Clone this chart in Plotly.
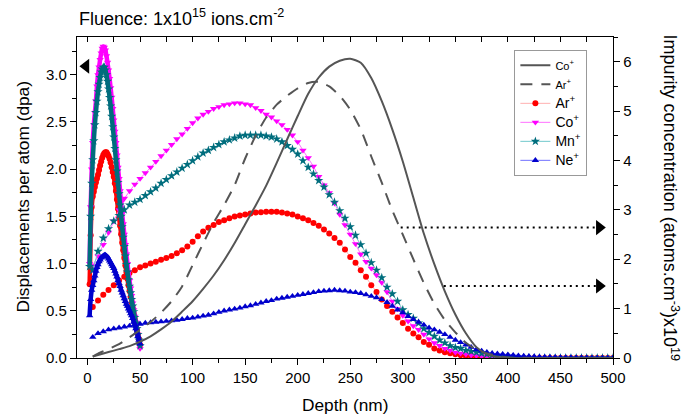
import plotly.graph_objects as go

# ---------------- data ----------------
# broad dpa profiles (every 5 nm)
depth_broad = list(range(5, 505, 5))
dpa_ar = [0.54, 0.61, 0.67, 0.72, 0.77, 0.82, 0.86, 0.90, 0.93, 0.96,
          0.98, 1.00, 1.02, 1.04, 1.06, 1.08, 1.11, 1.14, 1.18, 1.23,
          1.29, 1.34, 1.38, 1.41, 1.44, 1.46, 1.48, 1.50, 1.51, 1.52,
          1.53, 1.54, 1.545, 1.55, 1.55, 1.55, 1.54, 1.53, 1.52, 1.50,
          1.48, 1.46, 1.43, 1.40, 1.36, 1.32, 1.27, 1.22, 1.15, 1.07,
          1.01, 0.93, 0.86, 0.77, 0.70, 0.62, 0.55, 0.49, 0.43, 0.37,
          0.31, 0.26, 0.22, 0.17, 0.14, 0.10, 0.08, 0.06, 0.05, 0.04,
          0.03, 0.02, 0.02, 0.015, 0.01, 0.01, 0.005, 0.005] + [0.0] * 22
dpa_co = [0.98, 1.08, 1.20, 1.33, 1.45, 1.57, 1.69, 1.77, 1.84, 1.90,
          1.96, 2.02, 2.08, 2.14, 2.20, 2.26, 2.32, 2.37, 2.43, 2.49,
          2.54, 2.58, 2.61, 2.64, 2.66, 2.68, 2.69, 2.70, 2.70, 2.69,
          2.68, 2.65, 2.62, 2.58, 2.55, 2.51, 2.47, 2.42, 2.36, 2.29,
          2.20, 2.12, 2.03, 1.92, 1.83, 1.75, 1.64, 1.52, 1.41, 1.31,
          1.21, 1.10, 1.02, 0.95, 0.88, 0.80, 0.70, 0.60, 0.52, 0.45,
          0.39, 0.34, 0.30, 0.25, 0.20, 0.16, 0.13, 0.10, 0.08, 0.06,
          0.05, 0.04, 0.03, 0.025, 0.02, 0.015, 0.01, 0.01, 0.008, 0.005] + [0.0] * 20
dpa_mn = [0.93, 1.13, 1.27, 1.37, 1.45, 1.51, 1.57, 1.62, 1.65, 1.68,
          1.72, 1.76, 1.80, 1.85, 1.89, 1.93, 1.97, 2.01, 2.05, 2.09,
          2.13, 2.17, 2.20, 2.23, 2.26, 2.29, 2.31, 2.33, 2.35, 2.36,
          2.36, 2.36, 2.36, 2.35, 2.34, 2.32, 2.29, 2.25, 2.21, 2.16,
          2.09, 2.02, 1.95, 1.88, 1.81, 1.73, 1.65, 1.56, 1.48, 1.39,
          1.30, 1.20, 1.11, 1.01, 0.93, 0.85, 0.75, 0.68, 0.60, 0.51,
          0.46, 0.42, 0.37, 0.31, 0.27, 0.23, 0.19, 0.16, 0.13, 0.11,
          0.10, 0.08, 0.07, 0.06, 0.05, 0.04, 0.03, 0.025, 0.02, 0.015,
          0.01, 0.005] + [0.0] * 18
dpa_ne = [0.22, 0.26, 0.28, 0.30, 0.31, 0.32, 0.33, 0.34, 0.35, 0.36,
          0.37, 0.375, 0.38, 0.385, 0.39, 0.395, 0.40, 0.41, 0.42, 0.425,
          0.435, 0.445, 0.455, 0.47, 0.485, 0.50, 0.51, 0.52, 0.53, 0.545,
          0.555, 0.57, 0.585, 0.60, 0.61, 0.625, 0.635, 0.645, 0.655, 0.665,
          0.675, 0.685, 0.695, 0.705, 0.71, 0.715, 0.72, 0.715, 0.71, 0.70,
          0.695, 0.685, 0.67, 0.655, 0.64, 0.62, 0.59, 0.55, 0.51, 0.48,
          0.44, 0.41, 0.38, 0.35, 0.32, 0.30, 0.275, 0.25, 0.22, 0.19,
          0.165, 0.14, 0.115, 0.09, 0.075, 0.06, 0.05, 0.045, 0.04, 0.035,
          0.03, 0.025, 0.02, 0.018, 0.015, 0.012, 0.01, 0.01, 0.008, 0.006,
          0.005, 0.004, 0.003, 0.002, 0.002, 0.001, 0.0, 0.0, 0.0, 0.0]

# narrow dpa profiles (every 1 nm, 2-50 nm)
depth_narrow = list(range(2, 51))
nar_ar = [0.78, 1.30, 1.60, 1.71, 1.76, 1.81, 1.86, 1.90, 1.94, 1.99,
          2.04, 2.08, 2.12, 2.15, 2.17, 2.18, 2.18, 2.16, 2.14, 2.11,
          2.07, 2.02, 1.97, 1.92, 1.85, 1.77, 1.68, 1.58, 1.49, 1.40,
          1.31, 1.22, 1.14, 1.06, 0.98, 0.91, 0.84, 0.77, 0.71, 0.65,
          0.59, 0.53, 0.47, 0.41, 0.36, 0.30, 0.25, 0.20, 0.14]
nar_co = [1.00, 1.60, 2.00, 2.28, 2.47, 2.60, 2.72, 2.88, 3.00, 3.08,
          3.16, 3.23, 3.28, 3.30, 3.29, 3.26, 3.20, 3.13, 3.05, 2.96,
          2.86, 2.76, 2.64, 2.52, 2.40, 2.28, 2.15, 2.02, 1.90, 1.77,
          1.65, 1.53, 1.42, 1.31, 1.20, 1.10, 1.00, 0.91, 0.82, 0.74,
          0.66, 0.58, 0.51, 0.44, 0.38, 0.31, 0.25, 0.18, 0.10]
nar_mn = [0.97, 1.50, 1.85, 2.10, 2.30, 2.47, 2.60, 2.72, 2.82, 2.90,
          2.97, 3.03, 3.06, 3.08, 3.08, 3.05, 3.00, 2.93, 2.85, 2.76,
          2.67, 2.56, 2.45, 2.34, 2.22, 2.10, 1.98, 1.86, 1.74, 1.62,
          1.50, 1.39, 1.28, 1.18, 1.08, 0.99, 0.91, 0.83, 0.76, 0.69,
          0.62, 0.55, 0.49, 0.43, 0.37, 0.31, 0.25, 0.19, 0.13]
nar_ne = [0.45, 0.62, 0.72, 0.77, 0.82, 0.87, 0.92, 0.96, 0.99, 1.02,
          1.04, 1.06, 1.07, 1.08, 1.09, 1.09, 1.08, 1.07, 1.05, 1.03,
          1.01, 0.99, 0.97, 0.95, 0.92, 0.89, 0.86, 0.82, 0.79, 0.76,
          0.72, 0.69, 0.66, 0.63, 0.60, 0.57, 0.55, 0.52, 0.50, 0.47,
          0.45, 0.42, 0.38, 0.35, 0.31, 0.27, 0.23, 0.19, 0.15]

# impurity concentration (x1e19 atoms/cm3)
depth_conc = [5, 10] + list(range(20, 410, 10)) + [450, 500]
conc_co = [0.03, 0.06, 0.12, 0.18, 0.24, 0.33, 0.44, 0.58, 0.74, 0.94,
           1.15, 1.40, 1.67, 1.98, 2.33, 2.71, 3.09, 3.49, 3.95, 4.43,
           4.90, 5.35, 5.68, 5.90, 6.02, 6.06, 5.98, 5.67, 5.20, 4.63,
           3.98, 3.25, 2.52, 1.90, 1.35, 0.88, 0.50, 0.22, 0.08, 0.02,
           0.0, 0.0, 0.0]
conc_ar = [0.03, 0.09, 0.18, 0.28, 0.42, 0.57, 0.73, 0.92, 1.15, 1.45,
           1.88, 2.32, 2.74, 3.10, 3.50, 4.04, 4.50, 4.87, 5.13, 5.31,
           5.46, 5.57, 5.59, 5.50, 5.31, 5.03, 4.63, 4.08, 3.55, 2.99,
           2.50, 2.00, 1.52, 1.10, 0.77, 0.52, 0.31, 0.17, 0.09, 0.04,
           0.01, 0.0, 0.0]

# pointer arrows: (start depth, end depth, level)
right_arrows = [(298, 487, 2.64), (339, 487, 1.46)]
left_arrow = (-1.5, 3.09)

FONT = "Arial, 'Liberation Sans', sans-serif"

fig = go.Figure()

# concentration lines on right axis
fig.add_trace(go.Scatter(x=depth_conc, y=conc_co, yaxis="y2", mode="lines",
                         line=dict(color="#555555", width=2, shape="spline", smoothing=0.6),
                         name="<span style='font-size:11px'>Co<sup>+</sup></span>"))
fig.add_trace(go.Scatter(x=depth_conc, y=conc_ar, yaxis="y2", mode="lines",
                         line=dict(color="#555555", width=2, dash="12px,9px", shape="spline", smoothing=0.6),
                         name="<span style='font-size:11px'>Ar<sup>+</sup></span>"))

series = [
    ("Ar<sup>+</sup>", dpa_ar, nar_ar, "#ff0000", "#ffb0b0", "circle", 6),
    ("Co<sup>+</sup>", dpa_co, nar_co, "#ff00ff", "#ff70ff", "triangle-down", 6.5),
    ("Mn<sup>+</sup>", dpa_mn, nar_mn, "#006d7d", "#70c8cc", "star", 7),
    ("Ne<sup>+</sup>", dpa_ne, nar_ne, "#0000cc", "#7070ff", "triangle-up", 6.5),
]
for i, (name, broad, narrow, mc, lc, sym, sz) in enumerate(series):
    fig.add_trace(go.Scatter(x=depth_broad, y=broad, mode="lines+markers",
                             name=f"<span style='font-size:14px'>{name}</span>",
                             legendgroup=f"g{i}",
                             line=dict(color=lc, width=1),
                             marker=dict(color=mc, symbol=sym, size=sz)))
    fig.add_trace(go.Scatter(x=depth_narrow, y=narrow, mode="lines+markers", name=name,
                             legendgroup=f"g{i}", showlegend=False,
                             line=dict(color=mc, width=4.5, shape="spline"),
                             marker=dict(color=mc, symbol=sym, size=sz)))

# left pointer arrow (on top axis overlay, same scale)
fig.add_trace(go.Scatter(x=[left_arrow[0]], y=[left_arrow[1]], xaxis="x2", yaxis="y",
                         mode="markers", showlegend=False, cliponaxis=False,
                         marker=dict(symbol="triangle-left", size=13, color="black")))
# right pointer arrows
for x0, x1, lvl in right_arrows:
    fig.add_shape(type="line", x0=x0, x1=x1, y0=lvl, y1=lvl, xref="x", yref="y2",
                  line=dict(color="black", width=2, dash="2px,4px"))
fig.add_trace(go.Scatter(x=[a[1] for a in right_arrows], y=[a[2] for a in right_arrows],
                         yaxis="y2", mode="markers", showlegend=False, cliponaxis=False,
                         marker=dict(symbol="triangle-right", size=13, color="black")))

axis_common = dict(showline=True, linecolor="black", linewidth=1.3, showgrid=False,
                   zeroline=False, tickcolor="black", tickwidth=1.3,
                   tickfont=dict(size=15, color="black", family=FONT))

fig.update_layout(
    width=681, height=416,
    margin=dict(l=77, r=68, t=37, b=58),
    paper_bgcolor="white", plot_bgcolor="white",
    font=dict(family=FONT, color="black"),
    showlegend=True,
    xaxis=dict(range=[-10, 500], tick0=0, dtick=50, ticks="outside", ticklen=6,
               minor=dict(dtick=25, ticks="outside", ticklen=3.5, tickwidth=1.2, tickcolor="black"),
               anchor="y", **axis_common),
    xaxis2=dict(overlaying="x", matches="x", side="top", anchor="y", ticks="inside",
                tick0=0, dtick=25, ticklen=5, showticklabels=False,
                showline=True, linecolor="black", linewidth=1.3, showgrid=False,
                zeroline=False, tickcolor="black", tickwidth=1.3),
    yaxis=dict(range=[0, 3.4], tick0=0, dtick=0.5, tickformat=".1f", ticks="outside", ticklen=6,
               minor=dict(dtick=0.25, ticks="outside", ticklen=3.5, tickwidth=1.2, tickcolor="black"),
               **axis_common),
    yaxis2=dict(range=[0, 6.5], tick0=0, dtick=1, overlaying="y", side="right", anchor="x",
                ticks="outside", ticklen=6,
                minor=dict(dtick=0.5, ticks="outside", ticklen=3.5, tickwidth=1.2, tickcolor="black"),
                **axis_common),
    legend=dict(x=0.816, y=0.96, xanchor="left", yanchor="top", bgcolor="white",
                bordercolor="#999999", borderwidth=1, font=dict(size=11.5, family=FONT, color="black"),
                itemwidth=30, tracegroupgap=0),
    annotations=[
        dict(text="Fluence: 1x10<sup>15</sup> ions.cm<sup>-2</sup>", xref="paper", yref="paper",
             x=0.0, y=1.0, xanchor="left", yanchor="bottom", yshift=6, showarrow=False,
             font=dict(size=18, family=FONT, color="black")),
        dict(text="Displacements per atom (dpa)", xref="paper", yref="paper",
             x=-0.1026, y=0.5, xanchor="center", yanchor="middle", textangle=-90, showarrow=False,
             font=dict(size=17.3, family=FONT, color="black")),
        dict(text="Depth (nm)", xref="paper", yref="paper",
             x=0.5, y=-0.146, xanchor="center", yanchor="middle", showarrow=False,
             font=dict(size=17.3, family=FONT, color="black")),
        dict(text="Impurity concentration (atoms.cm<sup>-3</sup>)x10<sup>19</sup>", xref="paper", yref="paper",
             x=1.108, y=0.5, xanchor="center", yanchor="middle", textangle=90, showarrow=False,
             font=dict(size=18, family=FONT, color="black")),
    ],
)

fig.write_html("out.html")
